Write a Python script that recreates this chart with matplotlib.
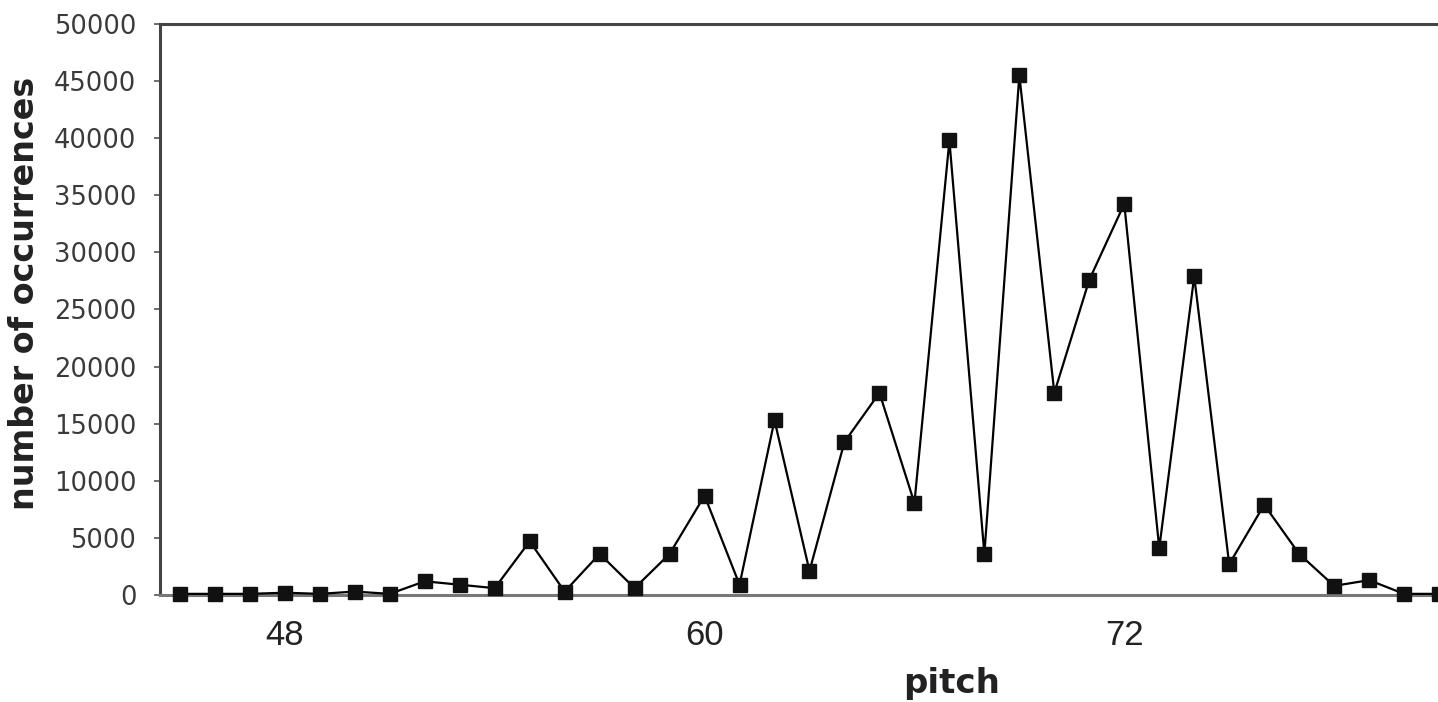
import matplotlib
matplotlib.use("Agg")
import matplotlib.pyplot as plt

# pitch histogram (MIDI note numbers)
pitch = list(range(45, 82))
counts = [100, 100, 100, 200, 100, 300, 100, 1200, 900, 600,
          4700, 300, 3600, 600, 3600, 8700, 900, 15300, 2100, 13400,
          17700, 8050, 39800, 3600, 45500, 17700, 27600, 34250, 4100, 27900,
          2700, 7900, 3600, 800, 1300, 100, 100]
xticks = [48, 60, 72]
yticks = list(range(0, 50001, 5000))

fig = plt.figure(figsize=(14.38, 7.02), dpi=100)
W, H = 1438, 702
ax = fig.add_axes([160 / W, 1 - 595 / H, (1438 - 160) / W, (595 - 24) / H])

ax.plot(pitch, counts, color="black", lw=1.6, marker="s", ms=10,
        mfc="#111111", mec="#111111", clip_on=False, zorder=3)

ax.set_xlim(44.43, 80.97)
ax.set_ylim(0, 50000)
ax.set_yticks(yticks)
ax.set_yticklabels([str(v) for v in yticks], fontsize=18.5, color="#3a3a3a",
                   family="DejaVu Sans")
ax.set_xticks(xticks)
ax.set_xticklabels([str(v) for v in xticks], fontsize=25, color="#222222",
                   family="Liberation Sans")
ax.tick_params(axis="x", length=0, pad=17)
ax.tick_params(axis="y", length=4, width=1.2, color="#555555", pad=13)

for s in ("left", "top", "bottom"):
    ax.spines[s].set_color("#444444")
    ax.spines[s].set_linewidth(2.2)
ax.spines["bottom"].set_color("#777777")
ax.spines["right"].set_visible(False)

fig.text(25 / W, 1 - 293 / H, "number of occurrences", rotation=90,
         ha="center", va="center", fontsize=24, fontweight="bold", color="#222222")
fig.text(952 / W, 1 - 683 / H, "pitch", ha="center", va="center",
         fontsize=24.5, fontweight="bold", color="#222222")

fig.savefig("out.png", dpi=100)
